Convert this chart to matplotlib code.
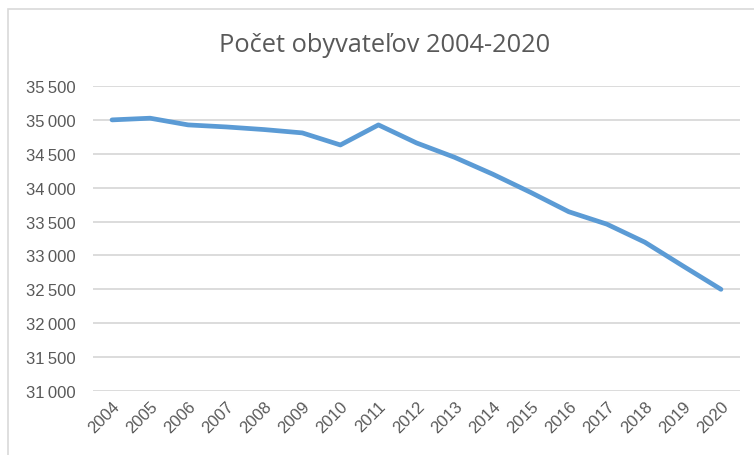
import matplotlib
matplotlib.use("Agg")
import matplotlib.pyplot as plt
from matplotlib.patches import Rectangle
from matplotlib.ticker import FuncFormatter

years = ["2004", "2005", "2006", "2007", "2008", "2009", "2010", "2011", "2012",
         "2013", "2014", "2015", "2016", "2017", "2018", "2019", "2020"]
population = [35000, 35025, 34926, 34896, 34857, 34808, 34630, 34926, 34660,
              34448, 34200, 33930, 33645, 33462, 33195, 32845, 32500]
title = "Počet obyvateľov 2004-2020"
y_ticks = [31000, 31500, 32000, 32500, 33000, 33500, 34000, 34500, 35000, 35500]

W, H = 754, 456
fig = plt.figure(figsize=(W / 100, H / 100), dpi=100)
fig.patch.set_facecolor("white")

# outer chart border
fig.patches.append(Rectangle((8 / W, -0.05), 1.0, 1 - 10 / H + 0.05,
                             transform=fig.transFigure, fill=False,
                             edgecolor="#d9d9d9", linewidth=1.2))

ax = fig.add_axes([93 / W, 1 - 392 / H, (740 - 93) / W, (392 - 87) / H])
x = list(range(len(years)))
ax.plot(x, population, color="#5b9bd5", linewidth=3.4, solid_capstyle="round",
        solid_joinstyle="round", zorder=3)

ax.set_xlim(-0.5, len(years) - 0.5)
ax.set_ylim(31000, 35500)
ax.set_yticks(y_ticks)
ax.yaxis.set_major_formatter(FuncFormatter(lambda v, p: f"{int(v):,}".replace(",", "\u2009")))
ax.set_xticks(x)
ax.set_xticklabels(years, rotation=45, ha="right", rotation_mode="anchor")
ax.grid(axis="y", color="#d9d9d9", linewidth=1.3)
ax.set_axisbelow(True)
for s in ax.spines.values():
    s.set_visible(False)
ax.tick_params(axis="both", length=0, colors="#595959", labelsize=12)
ax.tick_params(axis="y", pad=12.5)
ax.tick_params(axis="x", pad=5)
for lbl in ax.get_xticklabels() + ax.get_yticklabels():
    lbl.set_fontfamily("Liberation Sans")

fig.text(385 / W, 1 - 45 / H, title, ha="center", va="center",
         fontsize=18.3, color="#595959", family="Open Sans")

fig.savefig("out.png", dpi=100)
